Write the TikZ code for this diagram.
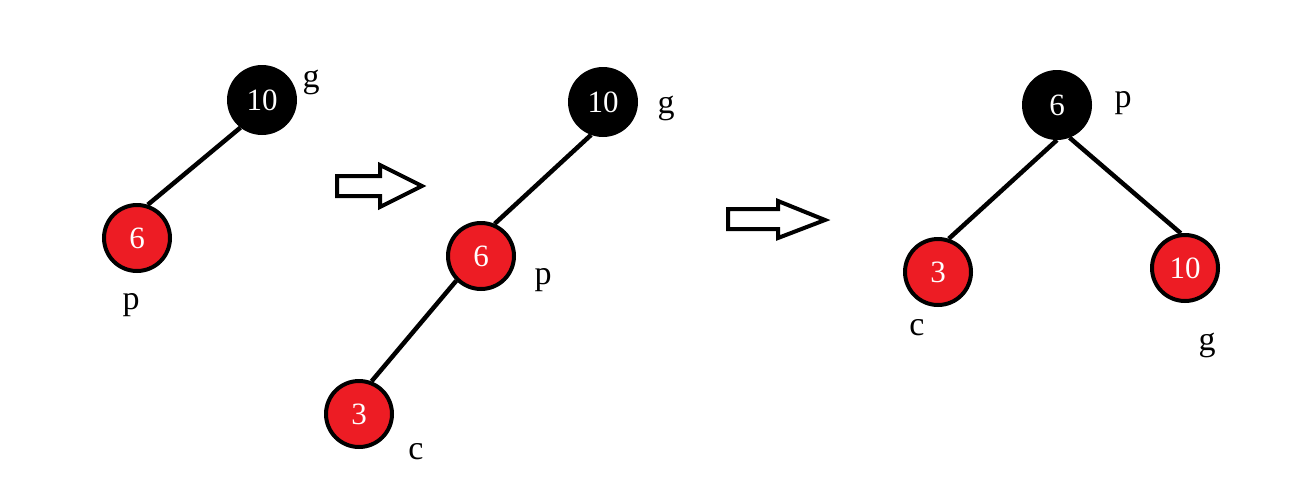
\documentclass[tikz,border=0pt]{standalone}
\usepackage{fontspec}
\setmainfont{Liberation Serif}
\usepackage{xcolor}
\definecolor{nodered}{HTML}{ED1C24}
\begin{document}
\begin{tikzpicture}[x=1pt,y=-1pt,
  blacknode/.style={circle,fill=black,draw=black,line width=4pt,minimum size=66pt,inner sep=0pt,text=white,font=\fontsize{31}{34}\selectfont},
  rednode/.style={circle,fill=nodered,draw=black,line width=4pt,minimum size=66pt,inner sep=0pt,text=white,font=\fontsize{31}{34}\selectfont},
  lbl/.style={inner sep=0pt,font=\fontsize{34}{38}\selectfont},
  edge/.style={line width=4.5pt},
  bigarrow/.style={draw=black,fill=white,line width=4pt,line join=miter}]
\useasboundingbox (0,0) rectangle (1314,488);
% tree 1
\node[blacknode] (g1) at (262,100) {10};
\node[rednode] (p1) at (137,238) {6};
\node[lbl] (lg1) at (311,82) {g};
\node[lbl] (lp1) at (131,305) {p};
\draw[edge] (g1.232) -- (p1.72);
% arrow 1
\draw[bigarrow] (337,176) -- (380,176) -- (380,165) -- (422,186) -- (380,207) -- (380,196) -- (337,196) -- cycle;
% tree 2
\node[blacknode] (g2) at (603,102) {10};
\node[rednode] (p2) at (481,256) {6};
\node[rednode] (c2) at (359,414) {3};
\node[lbl] (lg2) at (666,108) {g};
\node[lbl] (lp2) at (543,280) {p};
\node[lbl] (lc2) at (416,452) {c};
\draw[edge] (g2.250) -- (p2.67);
\draw[edge] (p2.225) -- (c2.69);
% arrow 2
\draw[bigarrow] (728,209) -- (778,209) -- (778,201) -- (825,220) -- (778,238) -- (778,229) -- (728,229) -- cycle;
% tree 3
\node[blacknode] (p3) at (1057,105) {6};
\node[rednode] (c3) at (938,272) {3};
\node[rednode] (g3) at (1185,268) {10};
\node[lbl] (lp3) at (1123,103) {p};
\node[lbl] (lc3) at (917,328) {c};
\node[lbl] (lg3) at (1207,345) {g};
\draw[edge] (p3.270) -- (c3.72);
\draw[edge] (p3.291) -- (g3.97);
\end{tikzpicture}
\end{document}
